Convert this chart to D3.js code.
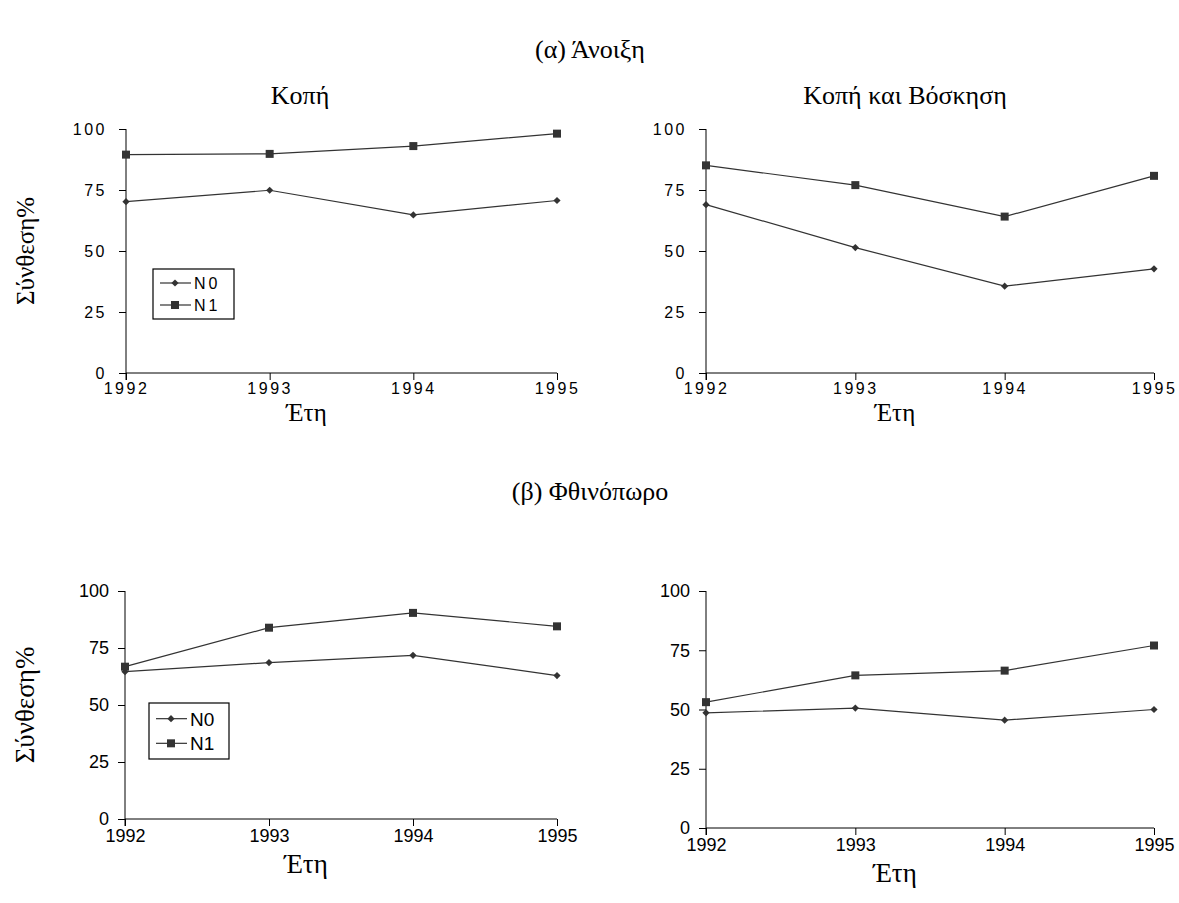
<!DOCTYPE html>
<html>
<head>
<meta charset="utf-8">
<script src="https://cdn.jsdelivr.net/npm/d3@7"></script>
<style>
  body { margin: 0; background: #fff; }
  svg text { fill: #000; }
</style>
</head>
<body>
<div id="chart"></div>
<script>
// data
const years = [1992, 1993, 1994, 1995];
const yTicks = [0, 25, 50, 75, 100];
const seriesNames = ['N0', 'N1'];

const springCutN0 = [70.2, 74.9, 64.8, 70.7];
const springCutN1 = [89.5, 89.8, 93.0, 98.1];
const springGrazeN0 = [69.0, 51.4, 35.6, 42.7];
const springGrazeN1 = [85.1, 77.0, 64.1, 80.8];
const autumnCutN0 = [64.6, 68.6, 71.8, 62.9];
const autumnCutN1 = [66.8, 83.9, 90.4, 84.5];
const autumnGrazeN0 = [48.6, 50.6, 45.5, 50.0];
const autumnGrazeN1 = [53.1, 64.4, 66.4, 77.0];

const sans = "'Liberation Sans', Arial, sans-serif";
const serif = "'Liberation Serif', 'Times New Roman', serif";
const ink = '#333';

const svg = d3.select('#chart')
    .append('svg')
    .attr('width', 1179)
    .attr('height', 903);

function title(x, y, txt, size) {
    svg.append('text')
        .attr('x', x).attr('y', y)
        .attr('text-anchor', 'middle')
        .style('font-family', serif)
        .style('font-size', size + 'px')
        .text(txt);
}

// draws one small line chart
function drawPanel(opts) {
    const x = d3.scalePoint().domain(years).range([opts.left, opts.right]);
    const y = d3.scaleLinear().domain([0, 100]).range([opts.bottom, opts.top]);
    const g = svg.append('g');

    const yAxis = g.append('g')
        .attr('transform', `translate(${opts.left},0)`)
        .call(d3.axisLeft(y).tickValues(yTicks).tickSize(7).tickPadding(opts.yPad));
    const xAxis = g.append('g')
        .attr('transform', `translate(0,${opts.bottom})`)
        .call(d3.axisBottom(x).tickSize(7).tickPadding(opts.xPad));

    [yAxis, xAxis].forEach(a => {
        a.select('.domain').remove();
        a.selectAll('.tick line').attr('stroke', '#000');
        a.selectAll('text')
            .style('font-family', sans)
            .style('font-size', opts.tickSize + 'px')
            .style('letter-spacing', opts.spacing + 'px')
            .attr('fill', '#000');
    });
    // plain axis lines, y axis running down to the tick ends
    g.append('line').attr('x1', opts.left).attr('x2', opts.left)
        .attr('y1', opts.top).attr('y2', opts.bottom + 7).attr('stroke', '#000');
    g.append('line').attr('x1', opts.left).attr('x2', opts.right)
        .attr('y1', opts.bottom).attr('y2', opts.bottom).attr('stroke', '#000');

    const line = d3.line().x((d, i) => x(years[i])).y(d => y(d));
    // diamond = square turned 45 degrees
    const diamond = d3.symbol().type(d3.symbolSquare).size(26);
    const square = d3.symbol().type(d3.symbolSquare).size(64);

    g.append('path').datum(opts.n0).attr('d', line)
        .attr('fill', 'none').attr('stroke', ink).attr('stroke-width', 1.2);
    g.append('path').datum(opts.n1).attr('d', line)
        .attr('fill', 'none').attr('stroke', ink).attr('stroke-width', 1.2);

    g.selectAll('.m0').data(opts.n0).enter().append('path')
        .attr('transform', (d, i) => `translate(${x(years[i])},${y(d)}) rotate(45)`)
        .attr('d', diamond).attr('fill', ink);
    g.selectAll('.m1').data(opts.n1).enter().append('path')
        .attr('transform', (d, i) => `translate(${x(years[i])},${y(d)})`)
        .attr('d', square).attr('fill', ink);

    if (opts.xTitleY) {
        title((opts.left + opts.right) / 2 - 35, opts.xTitleY, 'Έτη', opts.axisTitleSize);
    }
    if (opts.yTitle) {
        svg.append('text')
            .attr('transform', `translate(34,${(opts.top + opts.bottom) / 2}) rotate(-90)`)
            .attr('text-anchor', 'middle')
            .style('font-family', serif)
            .style('font-size', opts.axisTitleSize + 'px')
            .text('Σύνθεση%');
    }

    if (opts.legend) {
        const L = opts.legend;
        g.append('rect')
            .attr('x', L.x).attr('y', L.y).attr('width', L.w).attr('height', L.h)
            .attr('fill', '#fff').attr('stroke', '#000').attr('stroke-width', 1.2);
        seriesNames.forEach((name, i) => {
            const ry = L.y + L.h * (i === 0 ? 0.28 : 0.72);
            g.append('line')
                .attr('x1', L.x + 7).attr('x2', L.x + 38)
                .attr('y1', ry).attr('y2', ry)
                .attr('stroke', ink).attr('stroke-width', 1.2);
            g.append('path')
                .attr('transform', `translate(${L.x + 22},${ry})` + (i === 0 ? ' rotate(45)' : ''))
                .attr('d', i === 0 ? diamond : square).attr('fill', ink);
            g.append('text')
                .attr('x', L.x + 41).attr('y', ry).attr('dy', '0.36em')
                .style('font-family', sans)
                .style('font-size', L.size + 'px')
                .style('letter-spacing', L.spacing + 'px')
                .text(name);
        });
    }
}

title(590, 58, '(α) Άνοιξη', 26);
title(300, 104, 'Κοπή', 26);
title(905, 104, 'Κοπή και Βόσκηση', 26);
title(590, 500, '(β) Φθινόπωρο', 26);

drawPanel({ left: 126, right: 557, top: 129, bottom: 373, n0: springCutN0, n1: springCutN1,
    tickSize: 16, spacing: 2.5, yPad: 12, xPad: 3, xTitleY: 421, axisTitleSize: 25, yTitle: true,
    legend: { x: 153, y: 269, w: 81, h: 50, size: 16, spacing: 3 } });
drawPanel({ left: 706, right: 1154, top: 129, bottom: 373, n0: springGrazeN0, n1: springGrazeN1,
    tickSize: 16, spacing: 2.5, yPad: 12, xPad: 3, xTitleY: 421, axisTitleSize: 25 });
drawPanel({ left: 125, right: 557, top: 591, bottom: 819, n0: autumnCutN0, n1: autumnCutN1,
    tickSize: 18, spacing: 0, yPad: 9, xPad: 3, xTitleY: 873, axisTitleSize: 27, yTitle: true,
    legend: { x: 149, y: 703, w: 80, h: 56, size: 19, spacing: 0 } });
drawPanel({ left: 706, right: 1154, top: 591, bottom: 828, n0: autumnGrazeN0, n1: autumnGrazeN1,
    tickSize: 18, spacing: 0, yPad: 9, xPad: 3, xTitleY: 882, axisTitleSize: 27 });
</script>
</body>
</html>
